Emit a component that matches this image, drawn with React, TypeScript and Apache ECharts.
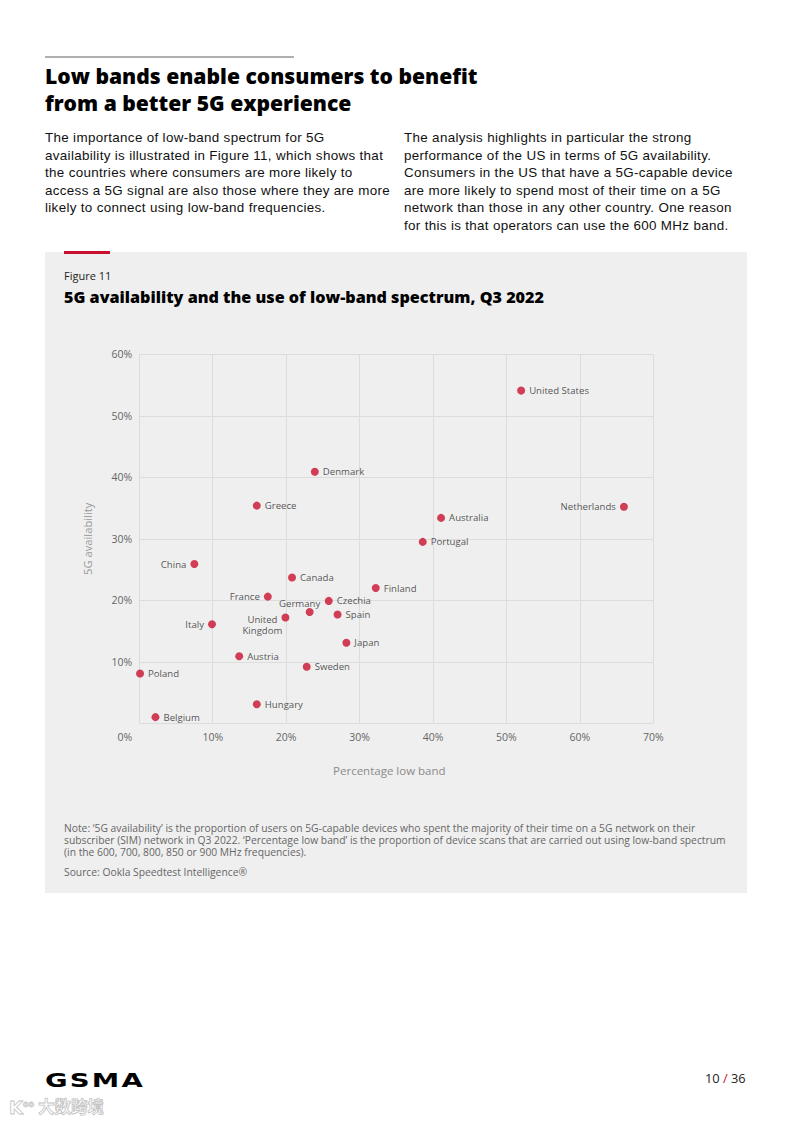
import React, { useEffect, useRef } from "react";
import * as echarts from "echarts";

// ---------- data ----------
const countries = [
  "United States", "Denmark", "Greece", "Netherlands", "Australia", "Portugal",
  "China", "Canada", "Finland", "France", "Czechia", "Germany", "Spain",
  "United Kingdom", "Italy", "Japan", "Austria", "Sweden", "Poland", "Hungary", "Belgium",
];
const lowBandPct = [
  52.0, 23.9, 16.0, 66.0, 41.1, 38.6,
  7.5, 20.8, 32.2, 17.5, 25.8, 23.2, 27.0,
  19.9, 9.9, 28.2, 13.6, 22.8, 0.1, 16.0, 2.2,
];
const availabilityPct = [
  54.1, 40.9, 35.4, 35.2, 33.4, 29.5,
  25.9, 23.7, 22.0, 20.6, 19.9, 18.1, 17.7,
  17.2, 16.1, 13.1, 10.9, 9.2, 8.1, 3.1, 1.0,
];
const xTicks = [0, 10, 20, 30, 40, 50, 60, 70];
const yTicks = [0, 10, 20, 30, 40, 50, 60];

const RED = "#c8102e";
const LABEL_FONT = "'Open Sans', sans-serif";

function labelFor(name: string) {
  const base = {
    show: true,
    color: "#2a2a2a",
    fontSize: 9.6,
    fontFamily: LABEL_FONT,
    formatter: name,
  };
  if (name === "United Kingdom") {
    return { ...base, formatter: "United\nKingdom", position: "inside", align: "center", lineHeight: 11, offset: [-23, 7] };
  }
  if (name === "Germany") {
    return { ...base, position: "inside", align: "center", offset: [-10, -8.5] };
  }
  if (["China", "France", "Italy", "Netherlands"].includes(name)) {
    return { ...base, position: "left", distance: 4 };
  }
  return { ...base, position: "right", distance: 4 };
}

function Chart() {
  const ref = useRef<HTMLDivElement>(null);
  useEffect(() => {
    if (!ref.current) return;
    const chart = echarts.init(ref.current, undefined, { renderer: "svg" });
    const data = countries.map((c, i) => ({
      name: c,
      value: [lowBandPct[i], availabilityPct[i]],
      label: labelFor(c),
    }));
    const tickStyle = { color: "#666", fontSize: 10.5, fontFamily: LABEL_FONT };
    chart.setOption({
      animation: false,
      backgroundColor: "transparent",
      grid: { left: 94.3, top: 34.3, width: 514, height: 369, containLabel: false },
      xAxis: {
        type: "value",
        min: xTicks[0],
        max: xTicks[xTicks.length - 1],
        interval: 10,
        name: "Percentage low band",
        nameLocation: "middle",
        nameGap: 41,
        nameTextStyle: { color: "#8a8a8a", fontSize: 11.5, fontFamily: LABEL_FONT, padding: [0, 14, 0, 0] },
        axisLine: { show: false },
        axisTick: { show: false },
        splitLine: { show: true, lineStyle: { color: "#dcdcdc", width: 1 } },
        axisLabel: {
          ...tickStyle,
          formatter: (v: number) => (v === xTicks[0] ? "{min|" + v + "%}" : v + "%"),
          rich: { min: { ...tickStyle, padding: [0, 7, 0, 0] } },
          margin: 8,
          alignMinLabel: "right",
        },
      },
      yAxis: {
        type: "value",
        min: yTicks[0],
        max: yTicks[yTicks.length - 1],
        interval: 10,
        name: "5G availability",
        nameLocation: "middle",
        nameGap: 46,
        nameRotate: 90,
        nameTextStyle: { color: "#9a9a9a", fontSize: 11.2, fontFamily: LABEL_FONT },
        axisLine: { show: false },
        axisTick: { show: false },
        splitLine: { show: true, lineStyle: { color: "#dcdcdc", width: 1 } },
        axisLabel: {
          ...tickStyle,
          formatter: (v: number) => (v === 0 ? "" : v + "%"),
          margin: 7,
        },
      },
      series: [
        {
          type: "scatter",
          symbol: "circle",
          symbolSize: 8,
          itemStyle: { color: RED },
          data,
        },
      ],
    });
    return () => chart.dispose();
  }, []);
  return <div ref={ref} style={{ position: "absolute", left: 45, top: 320, width: 702, height: 470 }} />;
}

const bodyFont = "'Liberation Sans', Arial, sans-serif";
const headFont = "'Open Sans', sans-serif";

const bodyStyle: React.CSSProperties = {
  position: "absolute",
  top: 129,
  fontSize: 13.4,
  lineHeight: "17.6px",
  letterSpacing: "0.33px",
  color: "#111",
  whiteSpace: "nowrap",
};

const noteStyle: React.CSSProperties = {
  position: "absolute",
  left: 64,
  fontFamily: headFont,
  fontSize: 10.3,
  lineHeight: "12px",
  color: "#666",
  whiteSpace: "nowrap",
};

export default function App() {
  return (
    <div
      style={{
        position: "absolute",
        left: 0,
        top: 0,
        width: 793,
        height: 1122,
        background: "#fff",
        overflow: "hidden",
        fontFamily: bodyFont,
        color: "#111",
      }}
    >
      <div style={{ position: "absolute", left: 45, top: 56, width: 249, height: 2, background: "#b0b0b0" }} />
      <div
        style={{
          position: "absolute",
          left: 45,
          top: 62,
          fontFamily: headFont,
          fontWeight: 800,
          fontSize: 21.1,
          lineHeight: "27px",
          color: "#000",
          whiteSpace: "nowrap",
        }}
      >
        Low bands enable consumers to benefit
        <br />
        from a better 5G experience
      </div>
      <div style={{ ...bodyStyle, left: 45 }}>
        The importance of low-band spectrum for 5G
        <br />
        availability is illustrated in Figure 11, which shows that
        <br />
        the countries where consumers are more likely to
        <br />
        access a 5G signal are also those where they are more
        <br />
        likely to connect using low-band frequencies.
      </div>
      <div style={{ ...bodyStyle, left: 404 }}>
        The analysis highlights in particular the strong
        <br />
        performance of the US in terms of 5G availability.
        <br />
        Consumers in the US that have a 5G-capable device
        <br />
        are more likely to spend most of their time on a 5G
        <br />
        network than those in any other country. One reason
        <br />
        for this is that operators can use the 600 MHz band.
      </div>

      <div style={{ position: "absolute", left: 45, top: 252, width: 702, height: 641, background: "#efefef" }} />
      <div style={{ position: "absolute", left: 64, top: 251, width: 46, height: 3, background: RED }} />
      <div style={{ position: "absolute", left: 64, top: 268, fontFamily: headFont, fontSize: 11, lineHeight: "16px", color: "#222" }}>
        Figure 11
      </div>
      <div
        style={{
          position: "absolute",
          left: 64,
          top: 286,
          fontFamily: headFont,
          fontWeight: 800,
          fontSize: 16.15,
          lineHeight: "22px",
          color: "#000",
          whiteSpace: "nowrap",
        }}
      >
        5G availability and the use of low-band spectrum, Q3 2022
      </div>

      <Chart />

      <div style={{ ...noteStyle, top: 822 }}>
        Note: ‘5G availability’ is the proportion of users on 5G-capable devices who spent the majority of their time on a 5G network on their
        <br />
        subscriber (SIM) network in Q3 2022. ‘Percentage low band’ is the proportion of device scans that are carried out using low-band spectrum
        <br />
        (in the 600, 700, 800, 850 or 900 MHz frequencies).
      </div>
      <div style={{ ...noteStyle, top: 866 }}>Source: Ookla Speedtest Intelligence®</div>

      <div
        style={{
          position: "absolute",
          left: 45,
          top: 1068,
          fontFamily: "'DejaVu Sans', sans-serif",
          fontWeight: 700,
          fontSize: 19,
          lineHeight: "24px",
          letterSpacing: "1.5px",
          color: "#000",
          whiteSpace: "nowrap",
          transform: "scaleX(1.45)",
          transformOrigin: "left center",
        }}
      >
        GSMA
      </div>
      <div
        style={{
          position: "absolute",
          left: 705,
          top: 1070,
          fontFamily: headFont,
          fontSize: 12.8,
          lineHeight: "16px",
          color: "#222",
          whiteSpace: "nowrap",
        }}
      >
        10 <span style={{ color: RED }}>/</span> 36
      </div>
      <div
        style={{
          position: "absolute",
          left: 9,
          top: 1094,
          fontFamily: "'DejaVu Sans', sans-serif",
          fontWeight: 700,
          fontSize: 18,
          lineHeight: "22px",
          color: "#fff",
          WebkitTextStroke: "0.8px #c4c4c4",
          whiteSpace: "nowrap",
        }}
      >
        K<span style={{ fontSize: 8, verticalAlign: "super" }}>oo</span>
      </div>
      <div
        style={{
          position: "absolute",
          left: 38,
          top: 1095,
          fontFamily: "'Noto Sans CJK SC', sans-serif",
          fontWeight: 700,
          fontSize: 16.5,
          lineHeight: "22px",
          color: "#fff",
          WebkitTextStroke: "0.8px #c4c4c4",
          whiteSpace: "nowrap",
        }}
      >
        大数跨境
      </div>
    </div>
  );
}
